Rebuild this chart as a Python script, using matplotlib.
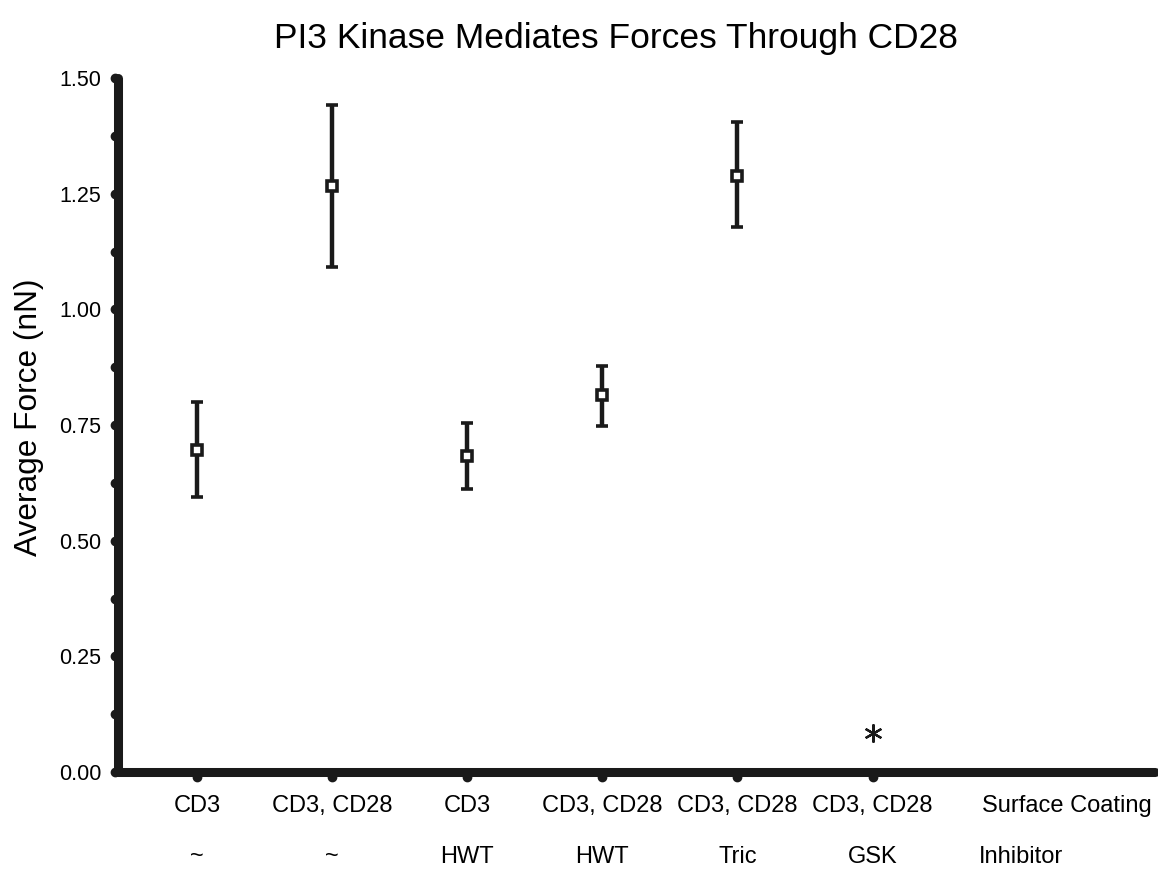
import numpy as np
import matplotlib
matplotlib.use("Agg")
from matplotlib import pyplot as plt
from matplotlib.transforms import blended_transform_factory, ScaledTranslation

plt.rcParams['font.family'] = ['Liberation Sans', 'DejaVu Sans']

# data
positions = [1, 2, 3, 4, 5]
means = [0.695, 1.266, 0.683, 0.814, 1.289]
err_low = [0.594, 1.091, 0.611, 0.747, 1.177]
err_high = [0.799, 1.441, 0.754, 0.877, 1.404]

tick_positions = [1, 2, 3, 4, 5, 6]
row1 = ["CD3", "CD3, CD28", "CD3", "CD3, CD28", "CD3, CD28", "CD3, CD28"]
row2 = ["~", "~", "HWT", "HWT", "Tric", "GSK"]
legend_row = ["Surface Coating", "Inhibitor"]
yticks = [0, 0.25, 0.5, 0.75, 1.0, 1.25, 1.5]
ytick_labels = ["0.00", "0.25", "0.50", "0.75", "1.00", "1.25", "1.50"]
star_x, star_y = 6, 0.084

ink = '#1a1a1a'
fig = plt.figure(figsize=(11.58, 8.69), dpi=100)
ax = fig.add_axes([0.1019, 0.1116, 0.8955, 0.7986])

yerr = [np.array(means) - np.array(err_low), np.array(err_high) - np.array(means)]
ax.errorbar(positions, means, yerr=yerr, fmt='s', color=ink,
            mfc='white', mec=ink, ms=7, mew=2.6,
            elinewidth=3.2, capsize=4, capthick=3.2, clip_on=False, zorder=3)
ax.plot(star_x, star_y, marker=(6, 2, 0), ms=13, mew=1.6, color=ink,
        linestyle='none')

ax.set_xlim(0.415, 8.09)
ax.set_ylim(0, 1.5)

for side in ['top', 'right']:
    ax.spines[side].set_visible(False)
for side in ['left', 'bottom']:
    ax.spines[side].set_linewidth(6.5)
    ax.spines[side].set_color(ink)
    ax.spines[side].set_capstyle('round')

# round tick dots just outside the thick spines
ax.set_yticks(yticks)
ax.set_yticklabels(ytick_labels)
ax.set_xticks(tick_positions)
ax.set_xticklabels([])
ax.tick_params(axis='both', which='both', length=0)
ax.tick_params(axis='y', labelsize=15.5, pad=12)

ytrans = blended_transform_factory(ax.transAxes, ax.transData) + \
    ScaledTranslation(-3.5 / 100, 0, fig.dpi_scale_trans)
all_y = np.arange(0, 1.501, 0.125)
ax.plot(np.zeros(len(all_y)), all_y, 'o', ms=6, color=ink, transform=ytrans,
        clip_on=False)
xtrans = blended_transform_factory(ax.transData, ax.transAxes) + \
    ScaledTranslation(0, -4.5 / 100, fig.dpi_scale_trans)
ax.plot(tick_positions, np.zeros(len(tick_positions)), 'o', ms=6, color=ink,
        transform=xtrans, clip_on=False)

trans = blended_transform_factory(ax.transData, ax.transAxes)
for xp, a, b in zip(tick_positions, row1, row2):
    ax.text(xp, -0.049, a, transform=trans, ha='center', va='center', fontsize=17)
    ax.text(xp, -0.1225, b, transform=trans, ha='center', va='center', fontsize=17)
ax.text(6.81, -0.049, legend_row[0], transform=trans, ha='left', va='center', fontsize=17)
ax.text(6.79, -0.1225, legend_row[1], transform=trans, ha='left', va='center', fontsize=17)

ax.set_ylabel("Average Force (nN)", fontsize=22.8)
ax.yaxis.set_label_coords(-0.071, 0.511)
fig.text(0.532, 0.956, "PI3 Kinase Mediates Forces Through CD28", ha='center',
         va='center', fontsize=25.5)

fig.savefig("out.png", dpi=100)
